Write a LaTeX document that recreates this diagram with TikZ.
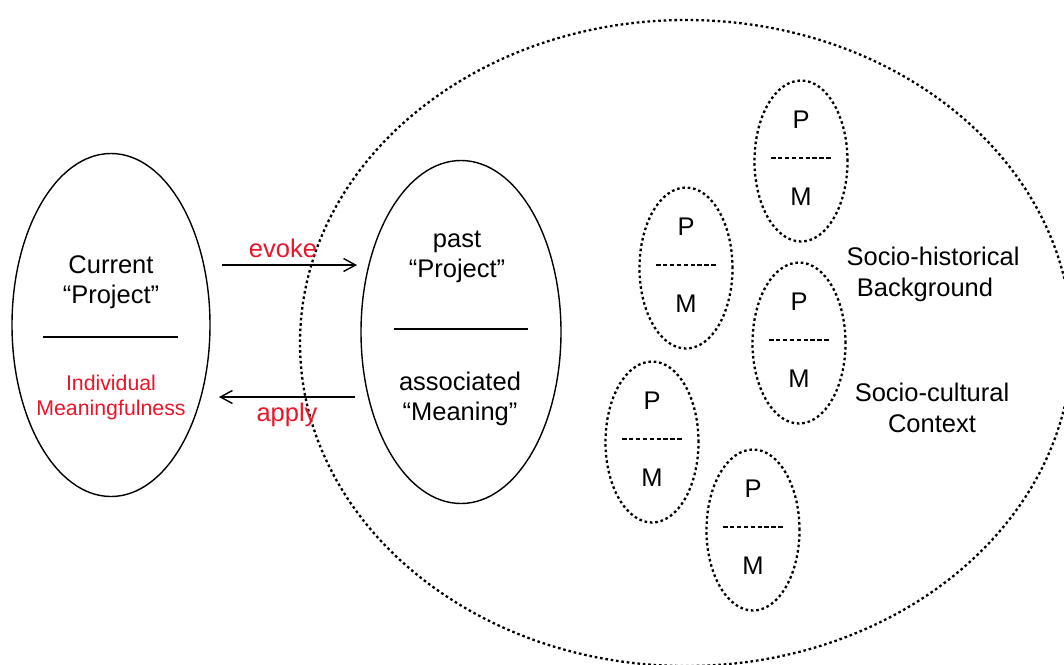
\documentclass[tikz,border=0pt]{standalone}
\usepackage{fontspec}
\setmainfont{Liberation Sans}
\usetikzlibrary{arrows.meta,shapes.geometric}
\definecolor{myred}{RGB}{232,22,42}
\begin{document}
\begin{tikzpicture}[x=1pt,y=-1pt,
  solidell/.style={draw, line width=1.4pt, ellipse, inner sep=0pt},
  dotell/.style={draw, line width=2.3pt, ellipse, inner sep=0pt, dash pattern=on 2.6pt off 2.8pt},
  pmell/.style={dotell, minimum width=93pt, minimum height=161pt},
  bigtxt/.style={font=\fontsize{25.5}{30}\selectfont, inner sep=0pt, anchor=base},
  smalltxt/.style={font=\fontsize{21.3}{25}\selectfont, inner sep=0pt, anchor=base, text=myred},
  redtxt/.style={bigtxt, text=myred},
  arr/.style={line width=1.4pt, -{Straight Barb[length=12pt,width=13pt,line width=1.4pt]}},
  sepline/.style={line width=1.4pt},
  pmline/.style={line width=2pt, dash pattern=on 4.5pt off 2.4pt}
]
\useasboundingbox (0,0) rectangle (1064,664);
\clip (0,0) rectangle (1064,664);

% big dotted context ellipse
\node[dotell, minimum width=772pt, minimum height=646pt] (ctx) at (686,343) {};

% left ellipse
\node[solidell, minimum width=198pt, minimum height=343pt] (cur) at (111,325) {};
\node[bigtxt] (cur1) at (111,273) {Current};
\node[bigtxt] (cur2) at (111,303) {“Project”};
\draw[sepline] (43,337) -- (178,337);
\node[smalltxt] (ind1) at (111,390) {Individual};
\node[smalltxt] (ind2) at (111,415) {Meaningfulness};

% middle ellipse
\node[solidell, minimum width=200pt, minimum height=343pt] (past) at (461,332) {};
\node[bigtxt] (past1) at (457,247) {past};
\node[bigtxt] (past2) at (457,277) {“Project”};
\draw[sepline] (394,329) -- (528,329);
\node[bigtxt] (ass1) at (460,390) {associated};
\node[bigtxt] (ass2) at (460,420) {“Meaning”};

% arrows
\coordinate (evS) at (222,265);
\coordinate (evE) at (357,265);
\coordinate (apS) at (355,397);
\coordinate (apE) at (219,397);
\draw[arr] (evS) -- (evE);
\draw[arr] (apS) -- (apE);
\node[redtxt] (evoke) at (283,257) {evoke};
\node[redtxt] (apply) at (287,421) {apply};

% P/M ellipses
\foreach \i/\cx/\cy in {1/801/161, 2/686/268, 3/799/343, 4/652/442, 5/753/530}{
  \node[pmell] (pm\i) at (\cx,\cy) {};
  \node[bigtxt] (pmP\i) at (\cx,\cy-33) {P};
  \node[bigtxt] (pmM\i) at (\cx,\cy+44) {M};
  \draw[pmline] (\cx-30,\cy-3) -- (\cx+31,\cy-3);
}

% side labels
\node[bigtxt] (sh1) at (933,265) {Socio-historical};
\node[bigtxt] (sh2) at (925,296) {Background};
\node[bigtxt] (sc1) at (932,401) {Socio-cultural};
\node[bigtxt] (sc2) at (932,432) {Context};
\end{tikzpicture}
\end{document}
